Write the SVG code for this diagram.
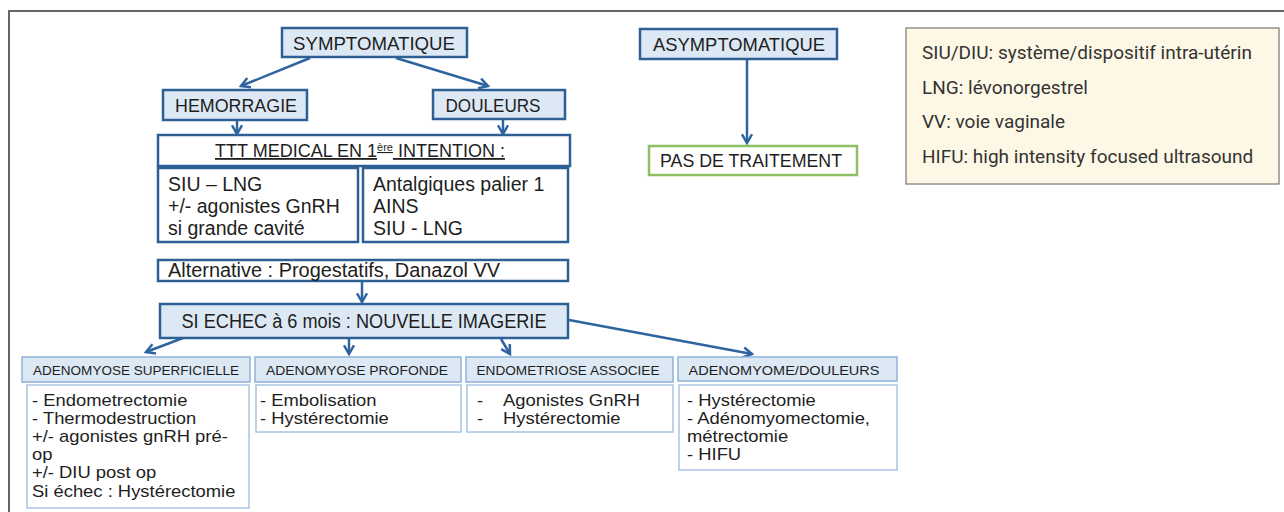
<svg xmlns="http://www.w3.org/2000/svg" width="1284" height="512" viewBox="0 0 1284 512">
<defs>
<marker id="arr" viewBox="0 0 10 10" refX="8" refY="5" markerWidth="5" markerHeight="5" orient="auto" markerUnits="strokeWidth">
<path d="M1,1 L8,5 L1,9" fill="none" stroke="#2e64a0" stroke-width="2" stroke-linejoin="miter"/>
</marker>
<style>
text{font-family:"Liberation Sans",Arial,sans-serif;fill:#1e1e1e}
.top{fill:#dce8f4;stroke:#2e5f95;stroke-width:2.5}
.wbox{fill:#fff;stroke:#2e5f95;stroke-width:2.5}
.green{fill:#fff;stroke:#8cc063;stroke-width:2.5}
.hdr{fill:#dce8f4;stroke:#8fb2d8;stroke-width:1.5}
.cnt{fill:#fff;stroke:#a9c4e2;stroke-width:1.5}
.t18{font-size:18px}
.t19{font-size:19.5px}
.h{font-size:13.5px;text-anchor:middle}
.c{text-anchor:middle}
.b{font-size:16px}
.leg{font-family:Roboto,"Liberation Sans",sans-serif;font-size:19px;fill:#333}
.con{fill:none;stroke:#2e64a0;stroke-width:2.5;marker-end:url(#arr)}
</style>
</defs>
<rect width="1284" height="512" fill="#fff"/>
<path d="M9,512 L9,11 L1284,11" fill="none" stroke="#666" stroke-width="2"/>

<g id="connectors">
<line class="con" x1="310" y1="58" x2="241" y2="86"/>
<line class="con" x1="396" y1="58" x2="488" y2="86"/>
<line class="con" x1="237" y1="121" x2="237" y2="134"/>
<line class="con" x1="503" y1="120" x2="503" y2="134"/>
<line class="con" x1="747" y1="59" x2="747" y2="143"/>
<line class="con" x1="362" y1="282" x2="362" y2="302"/>
<line class="con" x1="183" y1="338" x2="146" y2="352"/>
<line class="con" x1="349" y1="339" x2="349" y2="354"/>
<line class="con" x1="501" y1="339" x2="510" y2="354"/>
<line class="con" x1="569" y1="320" x2="752" y2="354"/>
</g>

<g id="symptomatique">
<rect class="top" x="282" y="28" width="185" height="29"/>
<text class="t18 c" x="374" y="50" textLength="162" lengthAdjust="spacingAndGlyphs">SYMPTOMATIQUE</text>
</g>
<g id="asymptomatique">
<rect class="top" x="640" y="29" width="197" height="30"/>
<text class="t18 c" x="739" y="51" textLength="172" lengthAdjust="spacingAndGlyphs">ASYMPTOMATIQUE</text>
</g>
<g id="hemorragie">
<rect class="top" x="163" y="90" width="144" height="30"/>
<text class="t18 c" x="236" y="112" textLength="122" lengthAdjust="spacingAndGlyphs">HEMORRAGIE</text>
</g>
<g id="douleurs">
<rect class="top" x="433" y="90" width="132" height="29"/>
<text class="t18 c" x="493" y="112" textLength="95" lengthAdjust="spacingAndGlyphs">DOULEURS</text>
</g>
<g id="pas-de-traitement">
<rect class="green" x="649" y="146" width="208" height="29"/>
<text class="t18 c" x="751" y="167" textLength="182" lengthAdjust="spacingAndGlyphs">PAS DE TRAITEMENT</text>
</g>
<g id="ttt-medical">
<rect class="wbox" x="158" y="135" width="412" height="31"/>
<text class="t18" x="215" y="157" text-decoration="underline">TTT MEDICAL EN 1<tspan font-size="11" dy="-6">ère</tspan><tspan dy="6"> INTENTION :</tspan></text>
</g>
<g id="hemorragie-ttt">
<rect class="wbox" x="158" y="168" width="200" height="74"/>
<text class="t19" x="168" y="191">SIU – LNG<tspan x="168" dy="22">+/- agonistes GnRH</tspan><tspan x="168" dy="22">si grande cavité</tspan></text>
</g>
<g id="douleurs-ttt">
<rect class="wbox" x="363" y="168" width="205" height="74"/>
<text class="t19" x="373" y="191">Antalgiques palier 1<tspan x="373" dy="22">AINS</tspan><tspan x="373" dy="22">SIU - LNG</tspan></text>
</g>
<g id="alternative">
<rect class="wbox" x="158" y="260" width="410" height="21"/>
<text class="t19" x="168" y="277" textLength="332" lengthAdjust="spacingAndGlyphs">Alternative : Progestatifs, Danazol VV</text>
</g>
<g id="si-echec">
<rect class="top" x="160" y="304" width="408" height="34"/>
<text class="t19 c" x="364" y="328" textLength="365" lengthAdjust="spacingAndGlyphs">SI ECHEC à 6 mois : NOUVELLE IMAGERIE</text>
</g>

<g id="adenomyose-superficielle">
<rect class="hdr" x="22" y="357" width="228" height="25"/>
<text class="h" x="136" y="375" textLength="206" lengthAdjust="spacingAndGlyphs">ADENOMYOSE SUPERFICIELLE</text>
<rect class="cnt" x="27" y="385" width="222" height="123"/>
<text class="b" transform="translate(32,406) scale(1.15,1)">- Endometrectomie<tspan x="0" dy="18">- Thermodestruction</tspan><tspan x="0" dy="18">+/- agonistes gnRH pré-</tspan><tspan x="0" dy="18">op</tspan><tspan x="0" dy="18.5">+/- DIU post op</tspan><tspan x="0" dy="18.5">Si échec : Hystérectomie</tspan></text>
</g>
<g id="adenomyose-profonde">
<rect class="hdr" x="255" y="357" width="206" height="25"/>
<text class="h" x="357" y="375" textLength="182" lengthAdjust="spacingAndGlyphs">ADENOMYOSE PROFONDE</text>
<rect class="cnt" x="256" y="385" width="205" height="47"/>
<text class="b" transform="translate(260,406) scale(1.15,1)">- Embolisation<tspan x="0" dy="18">- Hystérectomie</tspan></text>
</g>
<g id="endometriose-associee">
<rect class="hdr" x="466" y="357" width="207" height="25"/>
<text class="h" x="568" y="375" textLength="183" lengthAdjust="spacingAndGlyphs">ENDOMETRIOSE ASSOCIEE</text>
<rect class="cnt" x="467" y="385" width="206" height="47"/>
<text class="b" transform="translate(477,406) scale(1.15,1)">-<tspan x="22.6">Agonistes GnRH</tspan><tspan x="0" dy="18">-</tspan><tspan x="22.6">Hystérectomie</tspan></text>
</g>
<g id="adenomyome-douleurs">
<rect class="hdr" x="678" y="357" width="219" height="24"/>
<text class="h" x="784" y="375" textLength="191" lengthAdjust="spacingAndGlyphs">ADENOMYOME/DOULEURS</text>
<rect class="cnt" x="679" y="385" width="218" height="85"/>
<text class="b" transform="translate(687,406) scale(1.15,1)">- Hystérectomie<tspan x="0" dy="18">- Adénomyomectomie,</tspan><tspan x="0" dy="18">métrectomie</tspan><tspan x="0" dy="18">- HIFU</tspan></text>
</g>

<g id="legend">
<rect x="906" y="28" width="373" height="156" fill="#fdf8e6" stroke="#777" stroke-width="1.2"/>
<text class="leg" x="922" y="59">SIU/DIU: système/dispositif intra-utérin</text>
<text class="leg" x="922" y="94">LNG: lévonorgestrel</text>
<text class="leg" x="922" y="128">VV: voie vaginale</text>
<text class="leg" x="922" y="163">HIFU: high intensity focused ultrasound</text>
</g>
</svg>
